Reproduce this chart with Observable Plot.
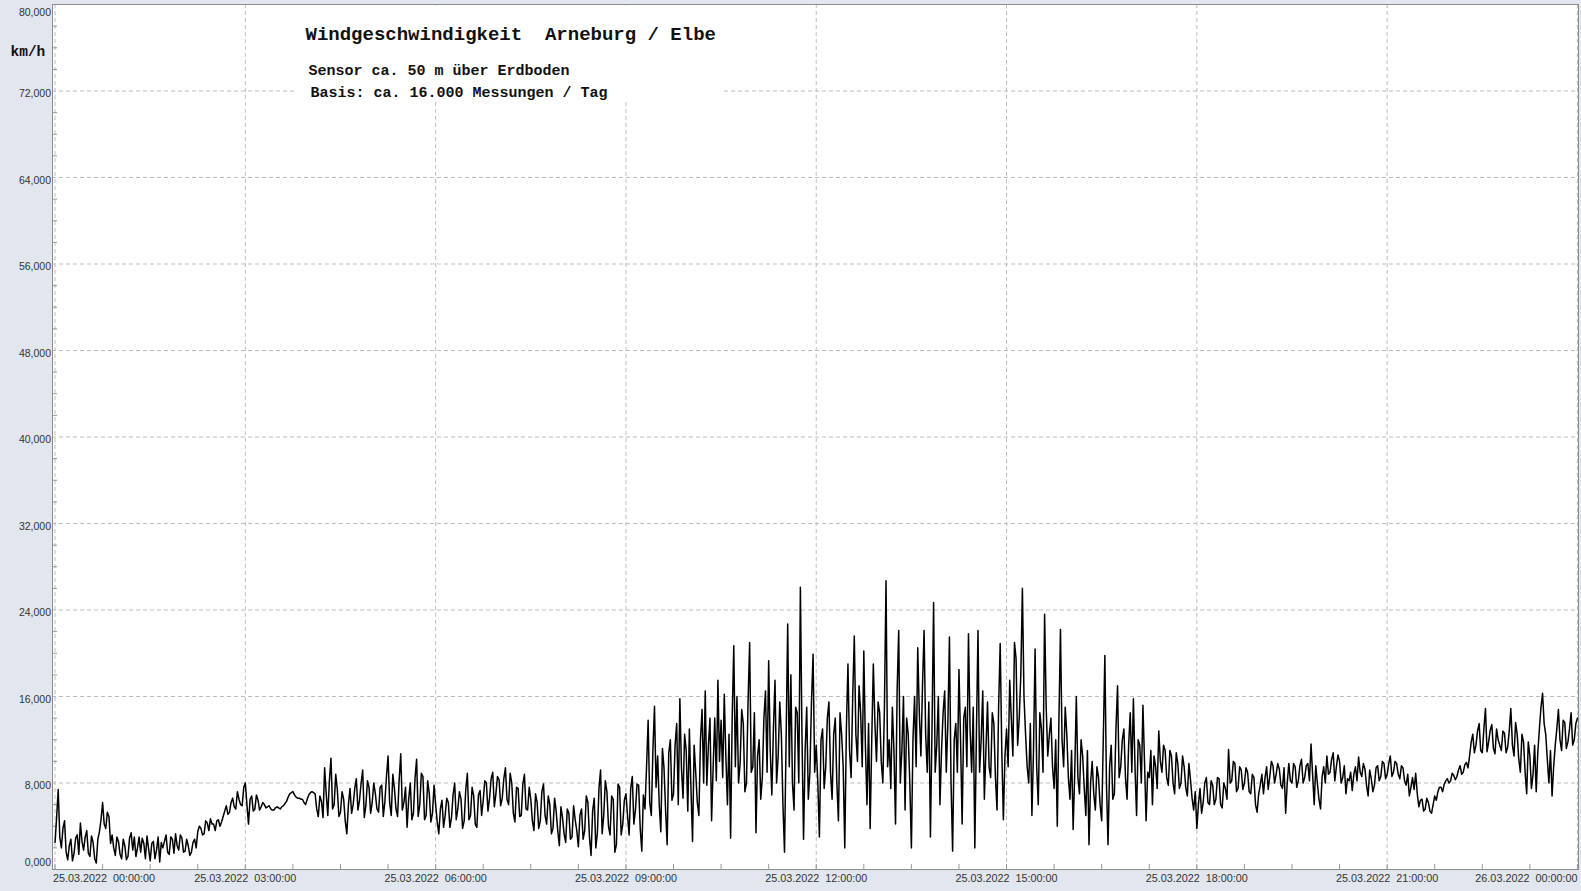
<!DOCTYPE html>
<html><head><meta charset="utf-8">
<script src="https://cdn.jsdelivr.net/npm/d3@7"></script>
<script src="https://cdn.jsdelivr.net/npm/@observablehq/plot@0.6"></script>
<style>
html,body{margin:0;padding:0;background:#e2e6ee;}
#chart{width:1581px;height:891px;overflow:hidden}
</style></head><body><div id="chart"></div>
<script>
// Wind speed (km/h) on 25.03.2022, one pair of arrays per 3-hour block:
// "a" = samples on the 3-minute grid, "b" = samples 1.5 minutes later.
const h00a = [2.5,7.4,2.0,4.5,0.9,2.8,1.5,3.2,4.3,1.8, 3.6,1.2,2.5,0.6,3.5,6.2,3.8,4.9,3.2,1.3, 2.6,1.0,2.2,1.2,3.4,3.0,2.0,1.6,2.4,3.1, 0.8,2.6,1.8,0.7,2.0,3.2,1.4,2.8,3.3,1.8, 2.9,1.7,2.2,1.6,2.8,3.5,3.8,3.3,4.3,4.7, 4.2,4.5,4.0,4.9,5.9,5.3,6.6,5.6,6.5,5.9];
const h00b = [4.8,3.0,3.8,1.6,2.2,0.8,2.9,1.4,2.6,3.0, 1.5,3.1,1.0,2.8,4.6,4.2,5.3,2.4,2.0,3.0, 1.4,2.8,0.9,2.9,1.8,1.2,3.0,2.9,1.0,1.9, 2.4,1.0,3.0,2.5,2.6,1.6,3.0,1.5,2.2,3.2, 1.6,2.8,1.3,2.5,2.0,4.0,3.2,4.5,3.6,4.2, 3.6,4.6,4.4,5.4,5.1,6.2,5.8,7.2,6.0,7.6];
const h03a = [8.0,4.2,6.8,5.6,6.4,5.8,6.0,5.8,5.6,5.5, 5.8,5.6,5.9,6.3,7.0,7.2,6.7,6.6,6.5,6.0, 6.9,7.2,7.0,4.9,6.3,9.4,5.0,10.3,6.0,7.4, 5.3,6.5,3.3,7.5,6.0,8.4,6.4,9.2,5.9,7.6, 6.2,7.0,5.3,7.8,6.3,10.5,5.0,7.5,4.9,10.7, 6.2,3.9,8.0,5.2,10.2,6.0,8.6,5.0,7.0,5.2];
const h03b = [6.0,6.5,5.4,6.9,5.5,6.2,5.7,5.9,5.5,5.7, 5.7,5.8,6.1,6.7,7.1,6.9,6.6,6.5,6.2,6.5, 7.1,7.1,5.6,6.8,4.8,7.0,8.2,5.6,8.8,4.9, 7.2,4.5,6.0,5.2,7.5,5.5,8.0,4.8,8.2,5.2, 8.0,5.6,7.6,4.9,8.6,6.2,8.8,5.6,8.3,5.5, 7.6,6.5,4.6,8.4,4.9,8.9,4.6,8.2,4.4,7.8];
const h06a = [6.0,3.3,6.4,5.0,6.2,4.8,8.0,5.6,6.5,4.5, 8.9,5.0,6.8,3.9,7.3,6.4,8.0,6.6,9.0,7.0, 8.3,6.6,9.4,6.0,8.0,4.4,7.5,5.0,8.8,5.5, 6.5,3.6,6.2,4.5,7.9,4.2,6.0,3.8,5.4,2.2, 4.8,2.5,5.2,3.0,4.6,2.1,5.6,3.6,6.2,1.3, 6.6,3.4,9.2,5.0,7.2,3.2,6.5,2.3,7.6,4.2];
const h06b = [4.4,5.6,3.9,6.6,3.9,6.9,4.6,7.2,3.8,7.4, 4.6,7.6,4.2,6.9,5.0,8.2,5.4,8.4,5.8,8.6, 5.9,8.4,6.5,8.9,5.2,7.6,4.9,7.9,5.6,7.6, 4.5,7.0,3.8,7.2,5.0,6.8,3.3,6.6,3.6,5.8, 3.3,5.6,2.8,5.9,3.6,5.0,2.8,6.8,3.0,5.4, 2.0,7.5,3.3,8.2,4.0,6.8,1.6,7.9,3.2,6.4];
const h09a = [7.0,3.2,8.6,5.5,7.8,1.7,5.6,13.8,5.0,15.1, 10.5,3.5,9.4,2.3,12.0,7.0,13.5,15.8,6.6,11.0, 13.0,2.6,9.0,5.0,14.8,16.5,11.5,4.5,14.0,17.5, 13.8,16.2,6.0,2.9,20.7,16.0,9.8,13.5,8.0,21.0, 9.5,3.4,12.0,8.5,16.5,19.3,6.9,17.5,10.5,12.5, 1.6,22.7,18.0,5.5,14.5,26.1,2.8,15.0,9.0,19.9];
const h09b = [5.0,7.5,4.2,7.9,3.8,6.9,9.5,6.2,11.0,7.6, 6.0,11.2,5.5,10.8,6.4,11.5,6.0,9.4,12.5,5.4, 7.5,11.5,6.2,12.0,8.0,7.8,14.0,9.5,8.2,10.0, 8.5,10.5,12.5,14.0,9.5,8.0,14.8,7.2,15.5,9.0, 14.5,10.5,6.5,14.0,9.0,11.0,13.0,8.0,15.5,6.0, 12.0,9.5,8.0,15.0,8.0,12.5,11.0,6.5,15.5,9.0];
const h12a = [11.5,3.0,13.0,9.5,15.5,6.5,14.0,4.5,12.5,2.0, 19.0,8.5,21.6,10.0,14.5,20.2,6.0,3.8,19.0,10.0, 14.5,8.0,26.7,12.0,15.0,4.2,22.1,11.0,5.5,12.5, 2.0,16.0,20.5,10.5,22.1,9.0,3.0,24.7,11.5,6.0, 14.5,9.0,21.5,1.7,13.5,18.5,4.2,15.0,21.8,9.0, 2.0,22.1,12.0,6.5,15.5,8.5,13.5,5.5,20.9,4.6];
const h12b = [8.0,12.0,7.5,14.0,9.0,12.5,8.0,14.5,9.5,13.0, 11.0,16.0,12.5,17.0,9.5,11.5,13.5,12.0,13.5,15.5, 10.0,15.0,9.5,7.5,11.0,16.5,8.0,16.0,14.0,8.0, 12.0,9.5,14.5,17.0,12.5,15.5,13.0,9.0,16.0,11.0, 16.5,13.5,8.0,12.0,9.0,12.0,14.0,9.5,13.0,15.0, 12.5,9.0,16.5,11.0,9.5,14.5,8.5,15.0,11.0,10.5];
const h15a = [13.0,17.5,10.5,19.5,14.0,26.0,12.5,8.0,5.0,20.4, 6.0,13.0,23.6,10.5,14.0,7.5,4.0,22.2,9.5,12.5, 6.5,3.7,16.0,7.0,10.5,5.0,2.3,10.0,5.5,8.5, 4.5,19.8,2.3,11.5,7.0,17.0,9.5,13.0,6.5,14.5, 15.8,5.0,11.5,15.2,4.5,8.5,6.0,9.5,12.8,9.0, 11.0,7.8,10.5,7.0,9.8,8.0,9.5,6.8,8.3,5.5];
const h15b = [9.5,14.0,21.0,11.5,18.0,16.0,9.5,13.5,11.0,9.5, 14.5,9.0,15.0,12.5,9.5,12.0,13.5,12.0,15.0,8.5, 11.0,9.0,8.5,12.0,7.5,11.0,8.0,7.0,9.5,6.0, 12.0,8.0,9.5,6.5,13.0,8.5,12.0,8.5,11.5,9.0, 9.5,12.0,8.0,10.0,9.0,11.0,10.5,7.5,10.0,11.5, 8.5,11.0,8.0,10.8,7.5,10.5,7.6,9.8,6.6,7.2];
const h18a = [3.8,7.5,6.2,8.5,6.0,7.8,6.5,8.4,5.7,7.5, 11.1,8.2,9.8,7.5,9.2,8.0,9.0,7.0,8.5,5.3, 7.8,7.0,9.5,8.6,9.6,8.8,9.3,7.5,5.2,9.8, 8.0,9.5,8.2,10.2,8.5,9.8,11.6,6.0,8.0,5.6, 9.5,10.5,9.0,10.8,9.5,10.0,8.5,7.0,8.2,7.3, 9.5,10.4,8.6,9.3,6.8,8.4,7.8,9.6,8.6,9.8];
const h18b = [6.0,5.2,8.0,6.2,8.2,6.0,8.5,6.0,8.0,6.5, 8.0,10.0,7.2,9.5,7.4,9.4,7.2,8.8,6.0,7.0, 8.8,8.5,7.4,10.0,8.0,9.8,7.8,9.4,8.0,8.2, 9.8,7.6,9.6,8.0,9.6,8.2,8.8,9.6,6.5,8.6, 8.0,8.8,10.2,8.2,10.6,8.0,9.6,8.4,9.0,8.8, 8.2,9.0,9.8,7.8,9.2,7.2,9.4,8.2,10.0,8.4];
const h21a = [8.8,10.5,9.0,9.8,8.4,9.4,7.8,6.8,8.5,8.9, 5.8,6.5,5.6,6.2,5.2,6.8,7.2,7.6,7.9,8.4, 8.2,8.7,8.6,9.6,9.0,9.9,10.5,12.5,11.5,13.5, 10.8,14.9,11.8,13.4,10.7,12.0,11.0,12.6,11.3,14.9, 10.5,12.5,9.0,11.8,7.0,10.5,8.8,7.2,13.0,16.3, 12.5,8.0,6.8,11.5,14.8,11.0,13.6,11.8,14.5,12.0, 14.0];
const h21b = [9.8,8.6,10.0,8.8,9.6,8.2,8.8,7.6,7.4,7.0, 6.4,5.4,6.6,5.4,6.0,6.4,7.6,7.2,8.2,8.0, 8.9,8.3,9.2,8.8,9.7,9.4,11.8,10.8,12.8,11.0, 13.0,10.9,12.9,11.2,13.0,11.5,12.8,10.8,12.8,11.5, 13.6,10.2,12.5,9.0,11.8,7.5,11.5,10.8,15.0,13.5, 10.2,11.0,9.5,13.0,12.0,13.8,11.2,13.0,11.5,13.5];
const blocksA = [h00a, h03a, h06a, h09a, h12a, h15a, h18a, h21a];
const blocksB = [h00b, h03b, h06b, h09b, h12b, h15b, h18b, h21b];
const sampleMinutes = 3;
const dayStart = Date.UTC(2022, 2, 25, 0, 0, 0);

const yTicks = [0, 8, 16, 24, 32, 40, 48, 56, 64, 72, 80];
const yTickLabels = ["0,000","8,000","16,000","24,000","32,000","40,000","48,000","56,000","64,000","72,000","80,000"];
const yMinorTicks = [2,4,6,10,12,14,18,20,22,26,28,30,34,36,38,42,44,46,50,52,54,58,60,62,66,68,70,74,76,78];
const xTickHours = [0, 3, 6, 9, 12, 15, 18, 21, 24];
const xTickLabels = ["25.03.2022  00:00:00","25.03.2022  03:00:00","25.03.2022  06:00:00","25.03.2022  09:00:00","25.03.2022  12:00:00","25.03.2022  15:00:00","25.03.2022  18:00:00","25.03.2022  21:00:00","26.03.2022  00:00:00"];
const xMinorHours = [0,0.75,1.5,2.25,3,3.75,4.5,5.25,6,6.75,7.5,8.25,9,9.75,10.5,11.25,12,12.75,13.5,14.25,15,15.75,16.5,17.25,18,18.75,19.5,20.25,21,21.75,22.5,23.25,24];

const title = "Windgeschwindigkeit\u00a0 Arneburg / Elbe";
const subtitle1 = "Sensor ca. 50 m über Erdboden";
const subtitle2 = "Basis: ca. 16.000 Messungen / Tag";
const unitLabel = "km/h";

const hour = 3600000, minute = 60000;
const toDate = h => new Date(dayStart + h * hour);
const data = [];
blocksA.forEach((a, k) => {
  const b = blocksB[k];
  a.forEach((v, i) => {
    const t0 = dayStart + (k * 60 + i) * sampleMinutes * minute;
    data.push({t: new Date(t0), v});
    if (i < b.length) data.push({t: new Date(t0 + sampleMinutes * minute / 2), v: b[i]});
  });
});
const yLab = yTicks.map((v, i) => ({v, label: yTickLabels[i]}));
const xLab = xTickHours.map((h, i) => ({t: toDate(h), label: xTickLabels[i].replace("  ", "\u00a0 ")}));

const W = 1581, H = 891, mL = 52, mR = 3, mT = 4, mB = 22;
const pw = W - mL - mR, ph = H - mT - mB;
const grid = {stroke: "#bdbdbd", strokeDasharray: "4,3", strokeWidth: 1};
const lab = {fontFamily: "'Liberation Sans', Arial, sans-serif", fill: "#333", lineAnchor: "middle"};
const mono = {fontFamily: "'Liberation Mono', 'Courier New', monospace", fontWeight: "bold", fill: "#111", textAnchor: "start", lineAnchor: "middle", frameAnchor: "top-left", text: d => d};

const chart = Plot.plot({
  width: W, height: H,
  marginLeft: mL, marginRight: mR, marginTop: mT, marginBottom: mB,
  style: {background: "#e2e6ee", overflow: "visible"},
  x: {type: "utc", domain: [new Date(dayStart - 2.4 * minute), new Date(dayStart + 24 * hour + minute)], axis: null},
  y: {domain: [0, 80], axis: null},
  marks: [
    Plot.frame({fill: "white", stroke: "none"}),
    Plot.ruleY(yTicks, {y: d => d, ...grid}),
    Plot.ruleX(xTickHours, {x: toDate, ...grid}),
    Plot.tickY(yMinorTicks, {y: d => d, insetRight: pw - 5, stroke: "#999"}),
    Plot.tickX(xMinorHours, {x: toDate, insetTop: ph - 5, stroke: "#999"}),
    Plot.frame({fill: "white", stroke: "none", insetLeft: 295 - mL, insetRight: W - mR - 722, insetTop: 1, insetBottom: H - mB - 101}),
    Plot.line(data, {x: "t", y: "v", stroke: "#000", strokeWidth: 1.5}),
    Plot.frame({stroke: "#8d8d8d", strokeWidth: 1}),
    Plot.text(yLab.slice(1, -1), {y: "v", text: "label", frameAnchor: "left", textAnchor: "end", dx: -1.5, dy: 3, fontSize: 10.5, ...lab}),
    Plot.text(yLab.slice(0, 1), {y: "v", text: "label", frameAnchor: "left", textAnchor: "end", dx: -1.5, dy: -7, fontSize: 10.5, ...lab}),
    Plot.text(yLab.slice(-1), {y: "v", text: "label", frameAnchor: "left", textAnchor: "end", dx: -1.5, dy: 8, fontSize: 10.5, ...lab}),
    Plot.text(xLab.slice(1, -1), {x: "t", text: "label", frameAnchor: "bottom", dy: 9, fontSize: 10.8, ...lab}),
    Plot.text(xLab.slice(0, 1), {x: "t", text: "label", frameAnchor: "bottom", textAnchor: "start", dx: -2, dy: 9, fontSize: 10.8, ...lab}),
    Plot.text(xLab.slice(-1), {x: "t", text: "label", frameAnchor: "bottom", textAnchor: "end", dx: 0, dy: 9, fontSize: 10.8, ...lab}),
    Plot.text([title], {...mono, fontSize: 19, dx: 253, dy: 29}),
    Plot.text([subtitle1], {...mono, fontSize: 15, dx: 256, dy: 65.5}),
    Plot.text([subtitle2], {...mono, fontSize: 15, dx: 258, dy: 88}),
    Plot.text([unitLabel], {...mono, fontSize: 14.5, dx: -42, dy: 47})
  ]
});
document.getElementById("chart").appendChild(chart);
</script>
</body></html>
